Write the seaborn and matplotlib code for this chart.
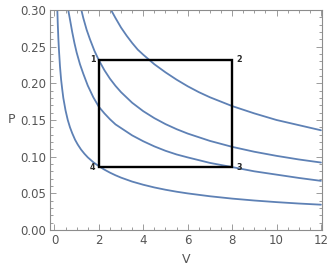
import pandas as pd
import seaborn as sns
import matplotlib.pyplot as plt
from matplotlib.ticker import MultipleLocator

# isotherm readings (V, P)
v_a = [0.11, 0.13, 0.15, 0.175, 0.2, 0.25, 0.3, 0.35, 0.4, 0.5, 0.6, 0.7, 0.8, 0.93, 1.05, 1.2, 1.35, 1.5,
       1.75, 2.0, 2.25, 2.5, 2.75, 3.0, 3.5, 4.0, 4.5, 5.0, 5.5, 6.0, 7.0, 8.0, 9.0, 10.0, 11.0, 12.0]
p_a = [0.324, 0.300, 0.281, 0.262, 0.247, 0.223, 0.205, 0.192, 0.180, 0.163, 0.150, 0.140, 0.132, 0.123, 0.1165,
       0.1096, 0.104, 0.0991, 0.0924, 0.0870, 0.0823, 0.0782, 0.0746, 0.0714, 0.0660, 0.0617, 0.0580, 0.0549,
       0.0522, 0.0499, 0.0460, 0.0428, 0.0402, 0.0380, 0.0361, 0.0345]

v_b = [0.55, 0.6, 0.62, 0.7, 0.8, 0.9, 1.0, 1.15, 1.3, 1.5, 1.75, 2.0, 2.25, 2.5, 2.75, 3.0, 3.5, 4.0, 4.5,
       5.0, 5.5, 6.0, 7.0, 8.0, 9.0, 10.0, 11.0, 12.0]
p_b = [0.325, 0.308, 0.300, 0.287, 0.270, 0.255, 0.242, 0.226, 0.213, 0.197, 0.181, 0.168, 0.159, 0.151, 0.144,
       0.139, 0.129, 0.121, 0.114, 0.108, 0.103, 0.099, 0.0915, 0.0858, 0.080, 0.0755, 0.071, 0.067]

v_c = [1.05, 1.18, 1.3, 1.45, 1.6, 1.8, 2.0, 2.25, 2.5, 2.75, 3.0, 3.5, 4.0, 4.5, 5.0, 5.5, 6.0, 7.0, 8.0,
       9.0, 10.0, 11.0, 12.0]
p_c = [0.3226, 0.304, 0.289, 0.273, 0.260, 0.2444, 0.2315, 0.2179, 0.2063, 0.1965, 0.1879, 0.1735, 0.162, 0.1525,
       0.1444, 0.1375, 0.1315, 0.1215, 0.1134, 0.1067, 0.1011, 0.0962, 0.092]

v_d = [2.35, 2.55, 2.75, 3.0, 3.25, 3.5, 3.75, 4.0, 4.5, 5.0, 5.5, 6.0, 6.5, 7.0, 8.0, 9.0, 10.0, 11.0, 12.0]
p_d = [0.313, 0.300, 0.289, 0.276, 0.265, 0.255, 0.246, 0.239, 0.226, 0.215, 0.205, 0.196, 0.188, 0.181, 0.169,
       0.159, 0.150, 0.143, 0.136]

# cycle corners 1 -> 2 -> 3 -> 4
cycle_v = [2, 8, 8, 2]
cycle_p = [0.2315, 0.2315, 0.0864, 0.0864]
cycle_labels = ['1', '2', '3', '4']

frames = []
for name, v, p in [('a', v_a, p_a), ('b', v_b, p_b), ('c', v_c, p_c), ('d', v_d, p_d)]:
    frames.append(pd.DataFrame({'V': v, 'P': p, 'curve': name}))
iso = pd.concat(frames, ignore_index=True)

sns.set_style('ticks')
plt.rcParams['font.family'] = ['DejaVu Sans']

fig = plt.figure(figsize=(3.32, 2.80), dpi=100)
ax = fig.add_axes([0.1506, 0.1786, 0.8194, 0.7857])

blue = '#5e81b5'
sns.lineplot(data=iso, x='V', y='P', units='curve', estimator=None, sort=False,
             color=blue, linewidth=1.3, ax=ax, legend=False)

# closed rectangle for the cycle
box = pd.DataFrame({'V': cycle_v + cycle_v[:1], 'P': cycle_p + cycle_p[:1]})
ax.plot(box['V'], box['P'], color='black', linewidth=1.7, solid_joinstyle='miter', zorder=3)

offsets = [(-4.6, 0.3), (4.9, 0.3), (4.9, -0.6), (-4.6, -0.6)]
for lab, v, p, off in zip(cycle_labels, cycle_v, cycle_p, offsets):
    ax.annotate(lab, (v, p), xytext=off, textcoords='offset points',
                ha='center', va='center', fontsize=5.8, fontweight='bold')

ax.set_xlim(-0.2, 12.05)
ax.set_ylim(0, 0.30)
ax.xaxis.set_major_locator(MultipleLocator(2))
ax.xaxis.set_minor_locator(MultipleLocator(0.5))
ax.yaxis.set_major_locator(MultipleLocator(0.05))
ax.yaxis.set_minor_locator(MultipleLocator(0.01))
ax.yaxis.set_major_formatter(plt.FormatStrFormatter('%.2f'))

grey = '#8c8c8c'
for s in ax.spines.values():
    s.set_color(grey)
    s.set_linewidth(0.8)
ax.tick_params(which='both', direction='in', top=True, right=True, color=grey, width=0.6)
ax.tick_params(which='major', length=4, labelsize=8.5, labelcolor='#555555', pad=3)
ax.tick_params(which='minor', length=2)

ax.set_xlabel('V', fontsize=9, color='#555555', labelpad=4)
ax.set_ylabel('P', fontsize=9, color='#555555', rotation=0, labelpad=6, va='center')

plt.savefig('out.png', dpi=100)
